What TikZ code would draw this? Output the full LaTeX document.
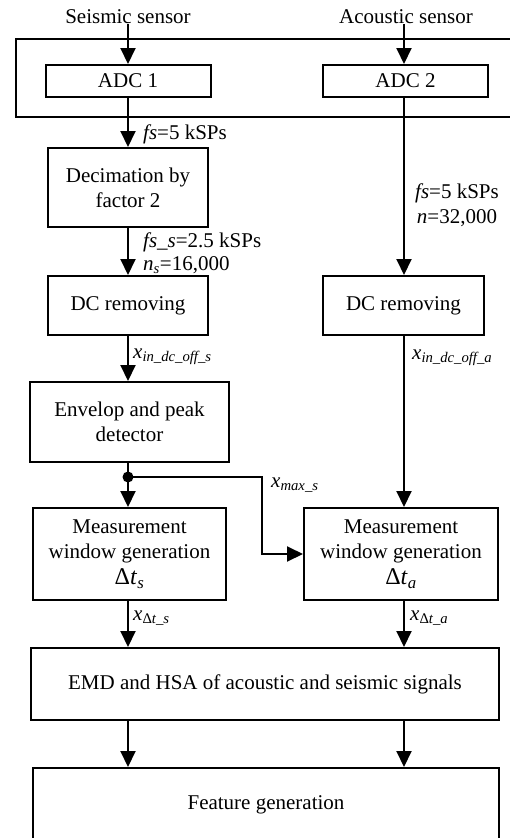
\documentclass[tikz,border=0pt]{standalone}
\usepackage{fontspec}
\setmainfont{Liberation Serif}
\usetikzlibrary{arrows.meta}
\begin{document}
\begin{tikzpicture}[x=1pt,y=-1pt,
  every node/.style={font=\fontsize{21}{25}\selectfont, inner sep=0pt},
  box/.style={draw, line width=2pt, align=center},
  conn/.style={line width=2pt, -{Triangle[length=16pt,width=15pt]}},
  plain/.style={line width=2pt},
  lbl/.style={anchor=west}]
\useasboundingbox (0,0) rectangle (510,838);
\coordinate (colL) at (128,0);
\coordinate (colR) at (404,0);
\coordinate (xm) at (262,0);
% frame around ADCs (right side runs off the page)
\node[box, minimum width=498pt, minimum height=78pt] (frame) at (265,78) {};
% sensors
\node (ss) at (128,17) {Seismic sensor};
\node (as) at (406,17) {Acoustic sensor};
% left column
\node[box, minimum width=165pt, minimum height=32pt] (adc1) at (128,81) {ADC 1};
\node[box, minimum width=160pt, minimum height=79pt] (dec) at (128,187.5) {Decimation by\\factor 2};
\node[box, minimum width=160pt, minimum height=59pt] (dcL) at (128,305.5) {DC removing};
\node[box, minimum width=199pt, minimum height=80pt] (env) at (129.5,422) {Envelop and peak\\detector};
\node[box, minimum width=193pt, minimum height=92pt] (measL) at (129.5,554) {Measurement\\window generation\\[1pt]{\fontsize{24}{28}\selectfont Δ\textit{t}\textsubscript{\textit{s}}}};
% right column
\node[box, minimum width=165pt, minimum height=32pt] (adc2) at (405.5,81) {ADC 2};
\node[box, minimum width=161pt, minimum height=59pt] (dcR) at (403.5,305.5) {DC removing};
\node[box, minimum width=194pt, minimum height=92pt] (measR) at (401,554) {Measurement\\window generation\\[1pt]{\fontsize{24}{28}\selectfont Δ\textit{t}\textsubscript{\textit{a}}}};
% bottom
\node[box, minimum width=468pt, minimum height=72pt] (emd) at (265,684) {EMD and HSA of acoustic and seismic signals};
\node[box, minimum width=466pt, minimum height=74pt] (feat) at (266,805) {Feature generation};
% connectors left
\draw[conn] (ss.south -| colL) -- (adc1.north -| colL);
\draw[conn] (adc1.south -| colL) -- (dec.north -| colL);
\draw[conn] (dec.south -| colL) -- (dcL.north -| colL);
\draw[conn] (dcL.south -| colL) -- (env.north -| colL);
\coordinate (j) at (128,477);
\draw[plain] (env.south -| colL) -- (j);
\draw[conn] (j) -- (measL.north -| colL);
\draw[conn] (j) -| (xm |- measR.west) -- (measR.west);
\fill (j) circle (5.5pt);
\draw[conn] (measL.south -| colL) -- (emd.north -| colL);
\draw[conn] (emd.south -| colL) -- (feat.north -| colL);
% connectors right
\draw[conn] (as.south -| colR) -- (adc2.north -| colR);
\draw[conn] (adc2.south -| colR) -- (dcR.north -| colR);
\draw[conn] (dcR.south -| colR) -- (measR.north -| colR);
\draw[conn] (measR.south -| colR) -- (emd.north -| colR);
\draw[conn] (emd.south -| colR) -- (feat.north -| colR);
% labels
\node[lbl] (l1) at (143,134) {\textit{fs}=5 kSPs};
\node[lbl] (l2) at (143,242) {\textit{fs\_s}=2.5 kSPs};
\node[lbl] (l3) at (143,265) {\textit{n}\textsubscript{\textit{s}}=16,000};
\node[lbl] (l4) at (133,357) {\textit{x}\textsubscript{\textit{in\_dc\_off\_s}}};
\node[lbl] (l5) at (133,618) {\textit{x}\textsubscript{Δ\textit{t\_s}}};
\node[align=center] (l6) at (457,205) {\textit{fs}=5 kSPs\\\textit{n}=32,000};
\node[lbl] (l7) at (412,358) {\textit{x}\textsubscript{\textit{in\_dc\_off\_a}}};
\node[lbl] (l8) at (410,618) {\textit{x}\textsubscript{Δ\textit{t\_a}}};
\node[lbl] (l9) at (271,485) {\textit{x}\textsubscript{\textit{max\_s}}};
\end{tikzpicture}
\end{document}
